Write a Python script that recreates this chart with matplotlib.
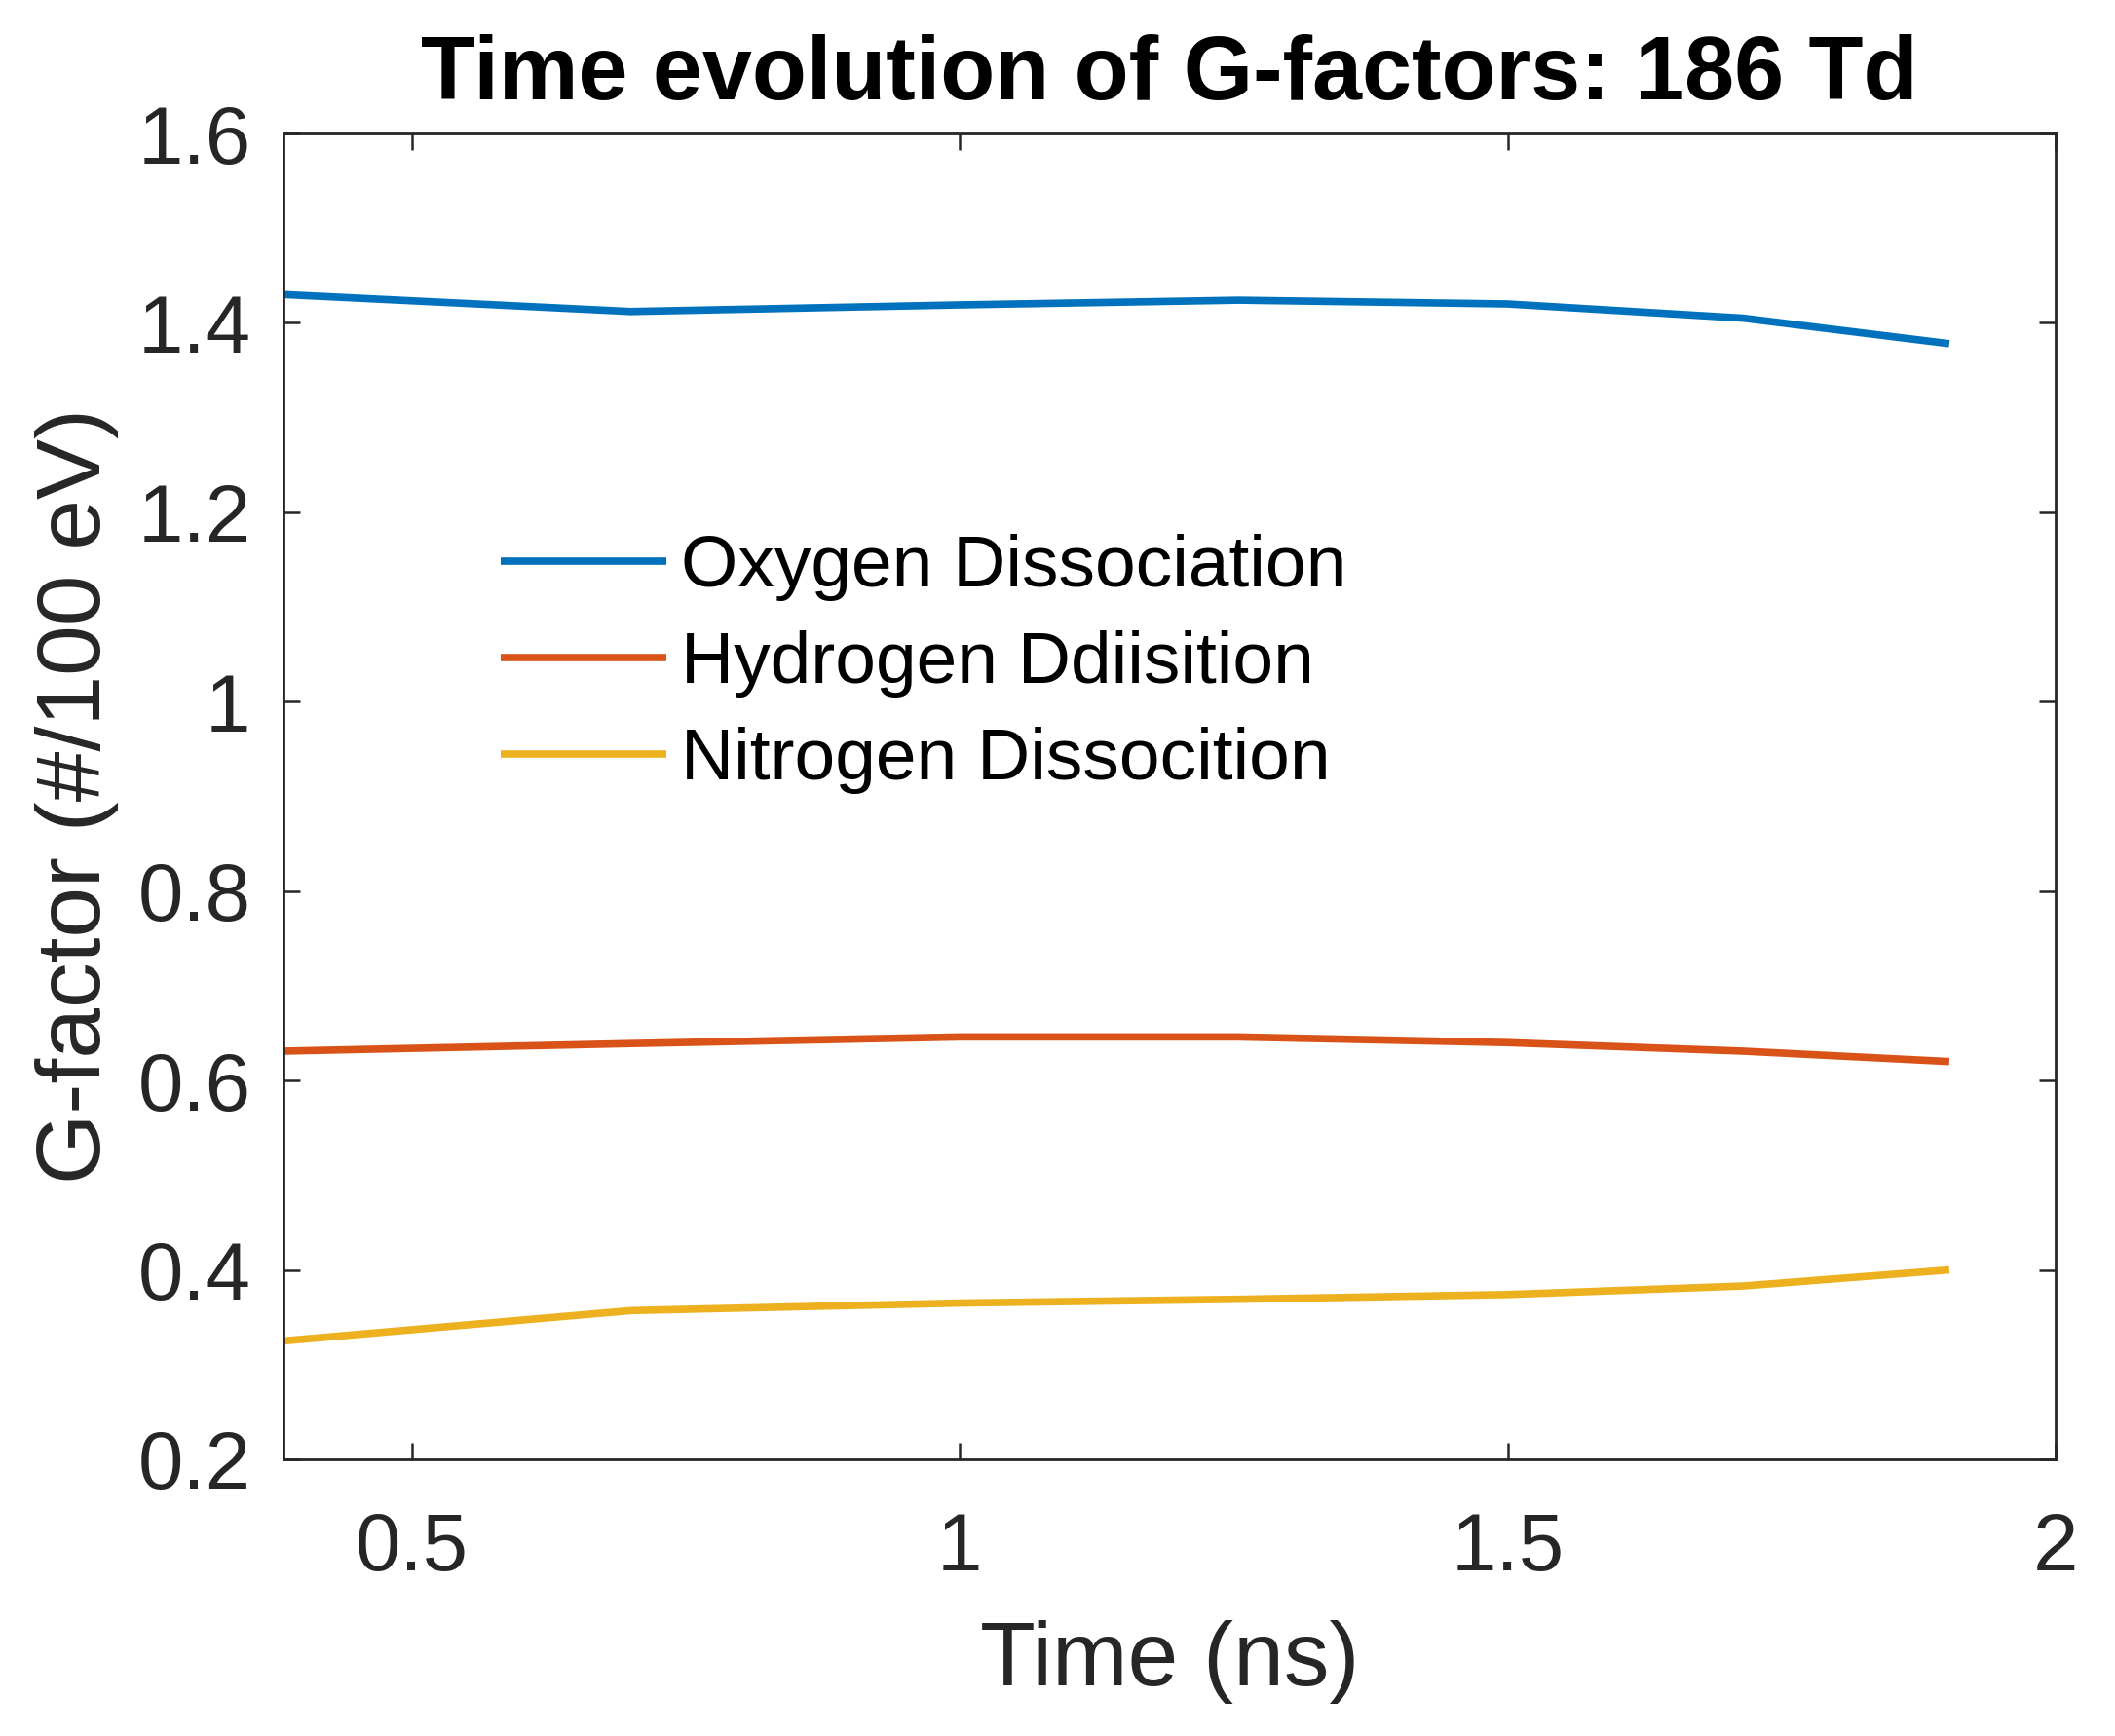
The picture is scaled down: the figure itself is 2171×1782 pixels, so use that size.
import numpy as np
import matplotlib
matplotlib.use("Agg")
import matplotlib.pyplot as plt

# Data
time_ns = [0.383, 0.70, 1.00, 1.255, 1.50, 1.715, 1.903]
oxygen = [1.430, 1.412, 1.419, 1.424, 1.420, 1.405, 1.378]
hydrogen = [0.631, 0.639, 0.646, 0.646, 0.640, 0.631, 0.620]
nitrogen = [0.325, 0.357, 0.365, 0.369, 0.374, 0.383, 0.400]

labels = ["Oxygen Dissociation", "Hydrogen Ddiisition", "Nitrogen Dissocition"]
colors = ["#0072BD", "#D95319", "#EDB120"]

xticks = [0.5, 1, 1.5, 2]
xticklabels = ["0.5", "1", "1.5", "2"]
yticks = [0.2, 0.4, 0.6, 0.8, 1.0, 1.2, 1.4, 1.6]
yticklabels = ["0.2", "0.4", "0.6", "0.8", "1", "1.2", "1.4", "1.6"]

plt.rcParams['font.family'] = ['Liberation Sans', 'DejaVu Sans']
AX_COLOR = "#262626"

fig = plt.figure(figsize=(21.71, 17.82), dpi=100)
ax = fig.add_axes([0.1340, 0.1594, 0.8379, 0.7637])

for y, lab, c in zip([oxygen, hydrogen, nitrogen], labels, colors):
    ax.plot(time_ns, y, color=c, lw=5.5, label=lab, solid_capstyle='butt')

ax.set_xlim(time_ns[0], 2)
ax.set_ylim(0.2, 1.6)
ax.set_xticks(xticks)
ax.set_xticklabels(xticklabels)
ax.set_yticks(yticks)
ax.set_yticklabels(yticklabels)

ax.tick_params(axis='both', direction='in', length=12, width=1.8,
               colors=AX_COLOR, labelsize=60, top=True, right=True)
ax.tick_params(axis='x', pad=38)
ax.tick_params(axis='y', pad=24)
for sp in ax.spines.values():
    sp.set_linewidth(2)
    sp.set_color(AX_COLOR)

ax.set_xlabel("Time (ns)", fontsize=67, color=AX_COLOR, labelpad=25)
ax.set_ylabel("G-factor (#/100 eV)", fontsize=67, color=AX_COLOR, labelpad=14)
ax.set_title("Time evolution of G-factors: 186 Td", fontsize=66,
             fontweight='bold', color='black', pad=25)

leg = ax.legend(loc='center left', bbox_to_anchor=(0.1226, 0.600),
                frameon=False, fontsize=54, handlelength=2.27,
                handletextpad=0.2, labelspacing=0.4, borderpad=0,
                borderaxespad=0)
for t in leg.get_texts():
    t.set_color('black')

fig.savefig("out.png", dpi=100)
